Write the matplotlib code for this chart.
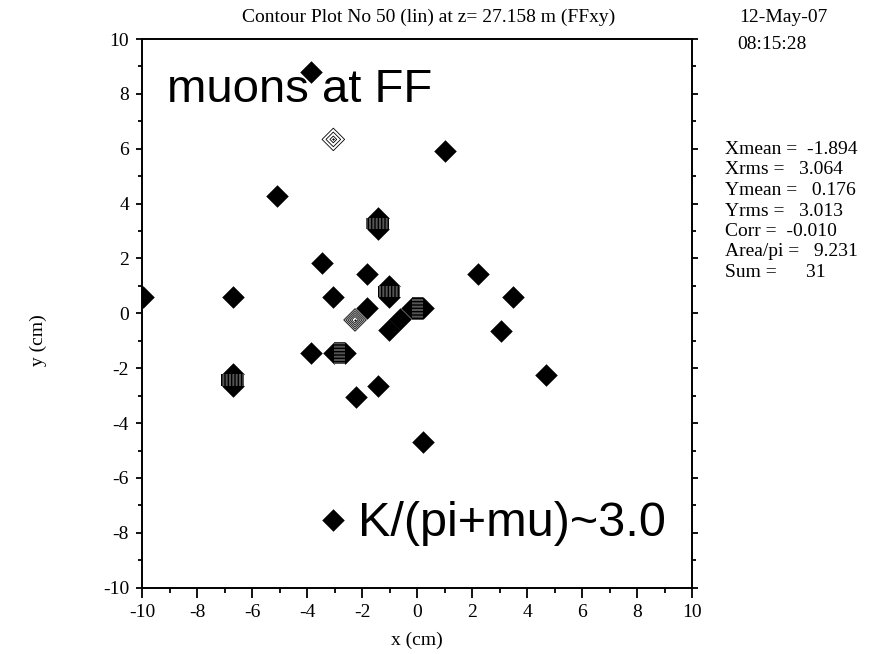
import numpy as np
import matplotlib
matplotlib.use("Agg")
import matplotlib.pyplot as plt

# ---------------- data ----------------
# single filled peaks (cm)
peak_x = [-9.99, -6.71, -3.45, -3.05, -3.87, -1.84, -1.84, -1.03, -0.63, 2.22,
          -1.44, -2.24, 0.22, 3.47, 3.06, 4.69, -3.87, 1.01, -5.09]
peak_y = [0.61, 0.61, 1.84, 0.61, -1.44, 1.43, 0.20, -0.61, -0.21, 1.43,
          -2.65, -3.04, -4.69, 0.61, -0.63, -2.25, 8.81, 5.92, 4.29]
# vertically adjacent peak pairs
vpair_x = [-6.71, -1.03, -1.44]
vpair_ylo = [-2.66, 0.61, 3.07]
vpair_yhi = [-2.22, 1.01, 3.49]
# horizontally adjacent peak pairs
hpair_y = [-1.44, 0.18]
hpair_xlo = [-3.04, -0.20]
hpair_xhi = [-2.64, 0.22]
# hollow (ringed) peaks
ring_x = [-3.05, -2.26]
ring_y = [6.34, -0.24]
ring_n = [3, 5]

bin_half = 0.41  # half width of a histogram cell (cm)

xticks = [-10, -8, -6, -4, -2, 0, 2, 4, 6, 8, 10]
yticks = [-10, -8, -6, -4, -2, 0, 2, 4, 6, 8, 10]

title = "Contour Plot No 50 (lin) at z= 27.158 m (FFxy)"
date_str = "12-May-07"
time_str = "08:15:28"
stat_lines = ["Xmean =  -1.894", "Xrms =   3.064", "Ymean =   0.176", "Yrms =   3.013",
              "Corr =  -0.010", "Area/pi =   9.231", "Sum =      31"]

# ---------------- figure ----------------
W, H = 881, 654
fig = plt.figure(figsize=(W / 100, H / 100), dpi=100)
L, R, T, B = 142.3, 692.0, 39.0, 587.7
ax = fig.add_axes([L / W, 1 - B / H, (R - L) / W, (B - T) / H])
ax.set_xlim(-10, 10)
ax.set_ylim(-10, 10)

serif = ["Liberation Serif", "DejaVu Serif"]
sans = ["Liberation Sans", "DejaVu Sans"]
fs_small = 14

# marker size so that diamond tip-to-tip spans two half-cells
px_per_unit = (R - L) / 20.0
tip_px = 2 * bin_half * px_per_unit
ms = tip_px * 72 / 100 / np.sqrt(2)

for xs, ys in [(peak_x, peak_y), (vpair_x, vpair_ylo), (vpair_x, vpair_yhi),
               (hpair_xlo, hpair_y), (hpair_xhi, hpair_y)]:
    ax.scatter(xs, ys, marker='D', s=ms ** 2, c='black', linewidths=0, zorder=4)

plt.rcParams['hatch.linewidth'] = 1.0
vh = np.array(vpair_yhi) - np.array(vpair_ylo)
ax.bar(vpair_x, vh, bottom=vpair_ylo, width=2 * bin_half, color='#555555',
       hatch='|||||', edgecolor='black', linewidth=0, zorder=4)
hw = np.array(hpair_xhi) - np.array(hpair_xlo)
ax.barh(hpair_y, hw, left=hpair_xlo, height=2 * bin_half, color='#555555',
        hatch='-----', edgecolor='black', linewidth=0, zorder=4)

for x, y, n in zip(ring_x, ring_y, ring_n):
    sizes = np.linspace(ms, ms * 0.3, n)
    ax.scatter([x] * n, [y] * n, marker='D', s=sizes ** 2, facecolors='none',
               edgecolors='black', linewidths=0.6, zorder=5)
    ax.scatter([x], [y], marker='D', s=(ms * 0.12) ** 2, c='black', linewidths=0, zorder=5)

# ---------------- axes styling ----------------
for side in ['left', 'right', 'bottom', 'top']:
    ax.spines[side].set_linewidth(1.4)
    ax.spines[side].set_color('black')
ax.set_xticks(xticks)
ax.set_yticks(yticks)
ax.set_xticklabels([str(v) for v in xticks], fontfamily=serif, fontsize=fs_small)
ax.set_yticklabels([str(v) for v in yticks], fontfamily=serif, fontsize=fs_small)
ax.set_xticks(np.arange(-9, 10, 2), minor=True)
ax.set_yticks(np.arange(-9, 10, 2), minor=True)
ax.tick_params(axis='x', which='major', direction='out', length=7, width=1.3,
               bottom=True, top=False, pad=5)
ax.tick_params(axis='x', which='minor', direction='out', length=3.4, width=1.3,
               bottom=True, top=False)
ax.tick_params(axis='y', which='major', direction='out', length=4.5, width=1.3,
               left=True, right=True, pad=5)
ax.tick_params(axis='y', which='minor', direction='out', length=3, width=1.3,
               left=True, right=True)

fig.text(417 / W, 1 - 640 / H, "x (cm)", fontfamily=serif, fontsize=fs_small,
         ha='center', va='center')
fig.text(38 / W, 1 - 340 / H, "y (cm)", fontfamily=serif, fontsize=fs_small,
         rotation=90, ha='center', va='center')

# ---------------- texts ----------------
fig.text(241.7 / W, 1 - 21.7 / H, title, fontfamily=serif, fontsize=fs_small,
         ha='left', va='baseline')
fig.text(739 / W, 1 - 22.5 / H, date_str, fontfamily=serif, fontsize=fs_small,
         ha='left', va='baseline')
fig.text(737 / W, 1 - 49 / H, time_str, fontfamily=serif, fontsize=fs_small,
         ha='left', va='baseline')
for i, s in enumerate(stat_lines):
    yy = 1 - (154 + i * 20.5) / H
    fig.text(725 / W, yy, s, fontfamily=serif, fontsize=fs_small, ha='left', va='baseline')

ax.text((167 - L) / (R - L), 1 - (102 - T) / (B - T), "muons at FF",
        transform=ax.transAxes, fontfamily=sans, fontsize=34, ha='left',
        va='baseline', zorder=3)
ax.scatter([(333 - L) / (R - L)], [1 - (520 - T) / (B - T)], marker='D',
           s=ms ** 2, c='black', linewidths=0, transform=ax.transAxes, zorder=4)
ax.text((358 - L) / (R - L), 1 - (536 - T) / (B - T), "K/(pi+mu)~3.0",
        transform=ax.transAxes, fontfamily=sans, fontsize=35, ha='left',
        va='baseline', zorder=3)

fig.savefig("out.png", dpi=100, facecolor='white')
